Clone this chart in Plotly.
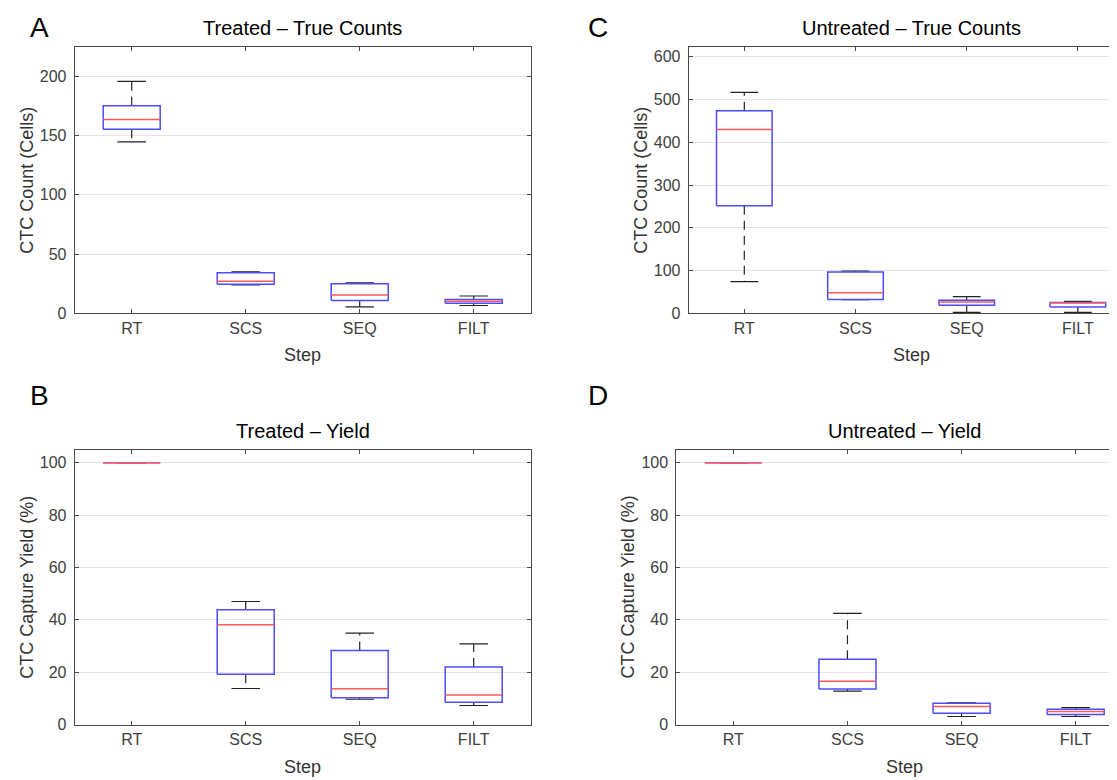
import plotly.graph_objects as go

W, H = 1117, 780

steps = ["RT", "SCS", "SEQ", "FILT"]

# Panel A: Treated - True Counts
a_lower = [144.7, 24.0, 5.5, 6.7]
a_q1 = [155.3, 24.7, 10.8, 8.6]
a_med = [163.6, 27.2, 15.5, 10.3]
a_q3 = [175.0, 34.4, 25.0, 11.7]
a_upper = [195.6, 35.0, 25.8, 14.7]

# Panel C: Untreated - True Counts
c_lower = [74.5, 32.0, 2.3, 2.3]
c_q1 = [251.5, 32.3, 19.2, 15.3]
c_med = [430.0, 48.5, 26.8, 24.6]
c_q3 = [473.8, 97.0, 30.7, 25.4]
c_upper = [517.0, 99.2, 39.2, 28.4]

# Panel B: Treated - Yield
b_lower = [100, 13.8, 9.7, 7.3]
b_q1 = [100, 19.2, 10.3, 8.5]
b_med = [100, 38.1, 13.7, 11.3]
b_q3 = [100, 43.9, 28.3, 22.0]
b_upper = [100, 47.0, 34.9, 30.8]

# Panel D: Untreated - Yield
d_lower = [100, 12.8, 3.1, 3.1]
d_q1 = [100, 13.6, 4.3, 3.9]
d_med = [100, 16.6, 6.9, 5.0]
d_q3 = [100, 25.0, 8.2, 5.9]
d_upper = [100, 42.5, 8.3, 6.5]

FONT = "Liberation Sans, Arial, Helvetica, sans-serif"
BOX_HW = 0.25
CAP_HW = 0.125

fig = go.Figure()


def add_boxes(xa, ya, lower, q1, med, q3, upper):
    pos = [i + 1 for i in range(len(steps))]
    bx, by, mx, my, wx, wy, cx, cy = [], [], [], [], [], [], [], []
    for p, lo, a, m, b, hi in zip(pos, lower, q1, med, q3, upper):
        bx += [p - BOX_HW, p + BOX_HW, p + BOX_HW, p - BOX_HW, p - BOX_HW, None]
        by += [a, a, b, b, a, None]
        mx += [p - BOX_HW, p + BOX_HW, None]
        my += [m, m, None]
        wx += [p, p, None, p, p, None]
        wy += [b, hi, None, a, lo, None]
        cx += [p - CAP_HW, p + CAP_HW, None, p - CAP_HW, p + CAP_HW, None]
        cy += [hi, hi, None, lo, lo, None]
    common = dict(xaxis=xa, yaxis=ya, mode="lines", hoverinfo="skip", showlegend=False)
    fig.add_trace(go.Scatter(x=wx, y=wy, line=dict(color="#222222", width=1.2, dash="9px,6px"), **common))
    fig.add_trace(go.Scatter(x=cx, y=cy, line=dict(color="#222222", width=1.2), **common))
    fig.add_trace(go.Scatter(x=bx, y=by, line=dict(color="#4b4bff", width=1.5), **common))
    fig.add_trace(go.Scatter(x=mx, y=my, line=dict(color="#ff5a5a", width=1.5), **common))


add_boxes("x", "y", a_lower, a_q1, a_med, a_q3, a_upper)
add_boxes("x2", "y2", c_lower, c_q1, c_med, c_q3, c_upper)
add_boxes("x3", "y3", b_lower, b_q1, b_med, b_q3, b_upper)
add_boxes("x4", "y4", d_lower, d_q1, d_med, d_q3, d_upper)

AX = "#4a4a4a"
tickfont = dict(family=FONT, size=16, color="#404040")


def xax(domain, rng, anchor, mirror):
    return dict(domain=domain, range=rng, anchor=anchor, tickvals=[1, 2, 3, 4], ticktext=steps,
                ticks="inside", ticklen=4, tickcolor=AX, showline=True, linecolor=AX, linewidth=1,
                mirror=mirror, showgrid=False, zeroline=False, tickfont=tickfont, fixedrange=True)


def yax(domain, rng, dtick, anchor, mirror):
    return dict(domain=domain, range=rng, dtick=dtick, anchor=anchor, ticks="inside", ticklen=4,
                tickcolor=AX, showline=True, linecolor=AX, linewidth=1, mirror=mirror,
                showgrid=True, gridcolor="#e4e4e4", gridwidth=1, zeroline=False,
                tickfont=tickfont, ticklabelstandoff=4, fixedrange=True)


left_dom = [66.7 / W, 522.7 / W]
c_dom = [680.7 / W, 1.0]
d_dom = [668.3 / W, 1.0]
top_dom = [1 - 309 / H, 1 - 39 / H]
bot_dom = [1 - 725 / H, 1 - 446.7 / H]

c_right = 0.5 + (W - 680.7) / 111.2
d_right = 0.5 + (W - 668.3) / 114.1

fig.update_layout(
    width=W, height=H,
    margin=dict(l=0, r=0, t=0, b=0),
    paper_bgcolor="white", plot_bgcolor="white",
    font=dict(family=FONT),
    showlegend=False,
    xaxis=xax(left_dom, [0.5, 4.5], "y", "ticks"),
    yaxis=yax(top_dom, [0, 225], 50, "x", "ticks"),
    xaxis2=xax(c_dom, [0.5, c_right], "y2", "ticks"),
    yaxis2=yax(top_dom, [0, 624], 100, "x2", False),
    xaxis3=xax(left_dom, [0.5, 4.5], "y3", "ticks"),
    yaxis3=yax(bot_dom, [0, 105], 20, "x3", "ticks"),
    xaxis4=xax(d_dom, [0.5, d_right], "y4", "ticks"),
    yaxis4=yax(bot_dom, [0, 105], 20, "x4", False),
)

titles = [("x", "y", "Treated – True Counts", "CTC Count (Cells)"),
          ("x2", "y2", "Untreated – True Counts", "CTC Count (Cells)"),
          ("x3", "y3", "Treated – Yield", "CTC Capture Yield (%)"),
          ("x4", "y4", "Untreated – Yield", "CTC Capture Yield (%)")]
ann = []
for xa, ya, t, yl in titles:
    ann.append(dict(text=t, xref=xa, yref=ya + " domain", x=2.5, y=1, yshift=19,
                    xanchor="center", yanchor="middle", showarrow=False,
                    font=dict(family=FONT, size=20, color="black")))
    ann.append(dict(text="Step", xref=xa, yref=ya + " domain", x=2.5, y=0, yshift=-42,
                    xanchor="center", yanchor="middle", showarrow=False,
                    font=dict(family=FONT, size=18, color="#333333")))
    ann.append(dict(text=yl, xref=xa + " domain", yref=ya + " domain", x=0, y=0.5, xshift=-48,
                    xanchor="center", yanchor="middle", textangle=-90, showarrow=False,
                    font=dict(family=FONT, size=18, color="#333333")))

letters = [("A", 31.7, 20), ("C", 590, 20), ("B", 31.7, 392), ("D", 590, 392)]
for L, px, py in letters:
    ann.append(dict(text=L, xref="paper", yref="paper", x=px / W, y=1 - py / H,
                    xanchor="center", yanchor="middle", showarrow=False,
                    font=dict(family=FONT, size=28, color="black")))
fig.update_layout(annotations=ann)

fig.write_html("out.html")
